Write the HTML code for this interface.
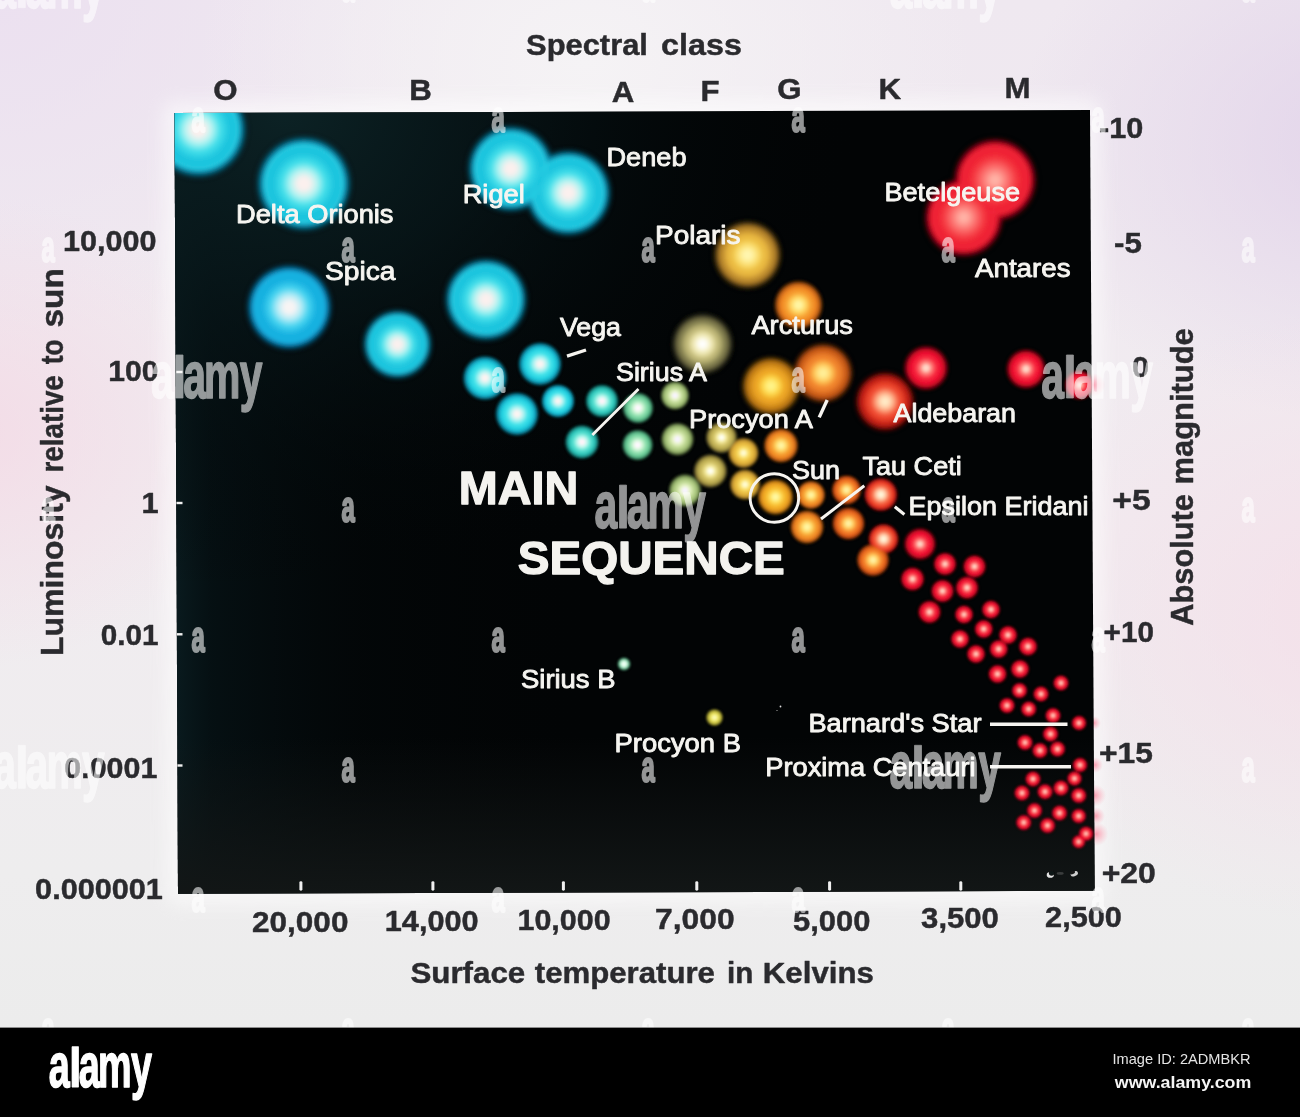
<!DOCTYPE html><html><head><meta charset="utf-8"><title>H-R diagram</title>
<style>html,body{margin:0;padding:0;background:#000;}body{width:1300px;height:1117px;overflow:hidden;}svg{display:block}text{font-family:"Liberation Sans",sans-serif;}</style></head><body>
<svg width="1300" height="1117" viewBox="0 0 1300 1117">
<defs>
<radialGradient id="g_cyan" cx="0.5" cy="0.5" r="0.5">
<stop offset="0" stop-color="#fbf0ee" stop-opacity="1"/>
<stop offset="0.12" stop-color="#fbf0ee" stop-opacity="1"/>
<stop offset="0.27" stop-color="#b4f4f2" stop-opacity="1"/>
<stop offset="0.43" stop-color="#44e0ea" stop-opacity="1"/>
<stop offset="0.62" stop-color="#1cc4de" stop-opacity="1"/>
<stop offset="0.74" stop-color="#1cc4de" stop-opacity="1"/>
<stop offset="0.78" stop-color="#2ed6e8" stop-opacity="1"/>
<stop offset="0.82" stop-color="#0e9ec2" stop-opacity="1"/>
<stop offset="0.885" stop-color="#097ea0" stop-opacity="0.8"/>
<stop offset="0.95" stop-color="#04384a" stop-opacity="0.35"/>
<stop offset="1" stop-color="#04384a" stop-opacity="0"/>
</radialGradient>
<radialGradient id="g_azure" cx="0.5" cy="0.5" r="0.5">
<stop offset="0" stop-color="#f8f4f4" stop-opacity="1"/>
<stop offset="0.12" stop-color="#f8f4f4" stop-opacity="1"/>
<stop offset="0.27" stop-color="#b4ecf6" stop-opacity="1"/>
<stop offset="0.43" stop-color="#44d4f0" stop-opacity="1"/>
<stop offset="0.62" stop-color="#16b0e0" stop-opacity="1"/>
<stop offset="0.74" stop-color="#16b0e0" stop-opacity="1"/>
<stop offset="0.78" stop-color="#24bce8" stop-opacity="1"/>
<stop offset="0.82" stop-color="#0c96cc" stop-opacity="1"/>
<stop offset="0.885" stop-color="#087aae" stop-opacity="0.8"/>
<stop offset="0.95" stop-color="#042c48" stop-opacity="0.35"/>
<stop offset="1" stop-color="#042c48" stop-opacity="0"/>
</radialGradient>
<radialGradient id="g_cyans" cx="0.5" cy="0.5" r="0.5">
<stop offset="0" stop-color="#fbf4f2" stop-opacity="1"/>
<stop offset="0.1" stop-color="#fbf4f2" stop-opacity="1"/>
<stop offset="0.27" stop-color="#b4f4f2" stop-opacity="1"/>
<stop offset="0.46" stop-color="#46e4ea" stop-opacity="1"/>
<stop offset="0.66" stop-color="#22cfe0" stop-opacity="1"/>
<stop offset="0.8" stop-color="#12a8c4" stop-opacity="0.95"/>
<stop offset="0.9" stop-color="#0a7e98" stop-opacity="0.6"/>
<stop offset="1" stop-color="#04303c" stop-opacity="0"/>
</radialGradient>
<radialGradient id="g_teal" cx="0.5" cy="0.5" r="0.5">
<stop offset="0" stop-color="#fff4fa" stop-opacity="1"/>
<stop offset="0.1" stop-color="#fff4fa" stop-opacity="1"/>
<stop offset="0.27" stop-color="#c0f8ee" stop-opacity="1"/>
<stop offset="0.46" stop-color="#60e4d4" stop-opacity="1"/>
<stop offset="0.66" stop-color="#30c8bc" stop-opacity="1"/>
<stop offset="0.8" stop-color="#1ea098" stop-opacity="0.95"/>
<stop offset="0.9" stop-color="#126c68" stop-opacity="0.6"/>
<stop offset="1" stop-color="#042020" stop-opacity="0"/>
</radialGradient>
<radialGradient id="g_green" cx="0.5" cy="0.5" r="0.5">
<stop offset="0" stop-color="#fff8ff" stop-opacity="1"/>
<stop offset="0.1" stop-color="#fff8ff" stop-opacity="1"/>
<stop offset="0.27" stop-color="#d8f8dc" stop-opacity="1"/>
<stop offset="0.46" stop-color="#98e4b4" stop-opacity="1"/>
<stop offset="0.66" stop-color="#6ccc98" stop-opacity="1"/>
<stop offset="0.8" stop-color="#4aa478" stop-opacity="0.95"/>
<stop offset="0.9" stop-color="#2a6a4c" stop-opacity="0.6"/>
<stop offset="1" stop-color="#0a2014" stop-opacity="0"/>
</radialGradient>
<radialGradient id="g_pgreen" cx="0.5" cy="0.5" r="0.5">
<stop offset="0" stop-color="#f8f4ff" stop-opacity="1"/>
<stop offset="0.1" stop-color="#f8f4ff" stop-opacity="1"/>
<stop offset="0.27" stop-color="#e8f4c8" stop-opacity="1"/>
<stop offset="0.46" stop-color="#c4dc98" stop-opacity="1"/>
<stop offset="0.66" stop-color="#a4c078" stop-opacity="1"/>
<stop offset="0.8" stop-color="#7c9858" stop-opacity="0.95"/>
<stop offset="0.9" stop-color="#4c6034" stop-opacity="0.6"/>
<stop offset="1" stop-color="#141a08" stop-opacity="0"/>
</radialGradient>
<radialGradient id="g_khaki" cx="0.5" cy="0.5" r="0.5">
<stop offset="0" stop-color="#ffffff" stop-opacity="1"/>
<stop offset="0.1" stop-color="#ffffff" stop-opacity="1"/>
<stop offset="0.25" stop-color="#f6f0c0" stop-opacity="1"/>
<stop offset="0.4" stop-color="#dad292" stop-opacity="1"/>
<stop offset="0.5" stop-color="#b4ac6c" stop-opacity="1"/>
<stop offset="0.56" stop-color="#c6be7e" stop-opacity="1"/>
<stop offset="0.62" stop-color="#928e58" stop-opacity="1"/>
<stop offset="0.8" stop-color="#706c44" stop-opacity="1"/>
<stop offset="0.885" stop-color="#46442a" stop-opacity="0.8"/>
<stop offset="0.95" stop-color="#1c1a0c" stop-opacity="0.35"/>
<stop offset="1" stop-color="#1c1a0c" stop-opacity="0"/>
</radialGradient>
<radialGradient id="g_olive" cx="0.5" cy="0.5" r="0.5">
<stop offset="0" stop-color="#fffff0" stop-opacity="1"/>
<stop offset="0.1" stop-color="#fffff0" stop-opacity="1"/>
<stop offset="0.27" stop-color="#f4ea9c" stop-opacity="1"/>
<stop offset="0.46" stop-color="#d4c468" stop-opacity="1"/>
<stop offset="0.66" stop-color="#b8a84e" stop-opacity="1"/>
<stop offset="0.8" stop-color="#8e803a" stop-opacity="0.95"/>
<stop offset="0.9" stop-color="#564e22" stop-opacity="0.6"/>
<stop offset="1" stop-color="#161408" stop-opacity="0"/>
</radialGradient>
<radialGradient id="g_yellow" cx="0.5" cy="0.5" r="0.5">
<stop offset="0" stop-color="#fff6b0" stop-opacity="1"/>
<stop offset="0.1" stop-color="#fff6b0" stop-opacity="1"/>
<stop offset="0.25" stop-color="#fde47c" stop-opacity="1"/>
<stop offset="0.4" stop-color="#f2c84c" stop-opacity="1"/>
<stop offset="0.5" stop-color="#e6b43c" stop-opacity="1"/>
<stop offset="0.56" stop-color="#eebe46" stop-opacity="1"/>
<stop offset="0.62" stop-color="#d29e34" stop-opacity="1"/>
<stop offset="0.8" stop-color="#aa7a28" stop-opacity="1"/>
<stop offset="0.885" stop-color="#6e4c14" stop-opacity="0.8"/>
<stop offset="0.95" stop-color="#2a1c06" stop-opacity="0.35"/>
<stop offset="1" stop-color="#2a1c06" stop-opacity="0"/>
</radialGradient>
<radialGradient id="g_yellows" cx="0.5" cy="0.5" r="0.5">
<stop offset="0" stop-color="#fffbd0" stop-opacity="1"/>
<stop offset="0.1" stop-color="#fffbd0" stop-opacity="1"/>
<stop offset="0.27" stop-color="#fce474" stop-opacity="1"/>
<stop offset="0.46" stop-color="#f0c648" stop-opacity="1"/>
<stop offset="0.66" stop-color="#dcac38" stop-opacity="1"/>
<stop offset="0.8" stop-color="#b4882a" stop-opacity="0.95"/>
<stop offset="0.9" stop-color="#705218" stop-opacity="0.6"/>
<stop offset="1" stop-color="#1c1404" stop-opacity="0"/>
</radialGradient>
<radialGradient id="g_gold" cx="0.5" cy="0.5" r="0.5">
<stop offset="0" stop-color="#fff48a" stop-opacity="1"/>
<stop offset="0.1" stop-color="#fff48a" stop-opacity="1"/>
<stop offset="0.25" stop-color="#ffdc50" stop-opacity="1"/>
<stop offset="0.4" stop-color="#f4b42c" stop-opacity="1"/>
<stop offset="0.5" stop-color="#e89c1e" stop-opacity="1"/>
<stop offset="0.56" stop-color="#f2ae2e" stop-opacity="1"/>
<stop offset="0.62" stop-color="#d68e1a" stop-opacity="1"/>
<stop offset="0.8" stop-color="#b87412" stop-opacity="1"/>
<stop offset="0.885" stop-color="#7c4c08" stop-opacity="0.8"/>
<stop offset="0.95" stop-color="#2c1804" stop-opacity="0.35"/>
<stop offset="1" stop-color="#2c1804" stop-opacity="0"/>
</radialGradient>
<radialGradient id="g_golds" cx="0.5" cy="0.5" r="0.5">
<stop offset="0" stop-color="#fff8a0" stop-opacity="1"/>
<stop offset="0.1" stop-color="#fff8a0" stop-opacity="1"/>
<stop offset="0.27" stop-color="#ffe060" stop-opacity="1"/>
<stop offset="0.46" stop-color="#f8bc30" stop-opacity="1"/>
<stop offset="0.66" stop-color="#eca020" stop-opacity="1"/>
<stop offset="0.8" stop-color="#c87e16" stop-opacity="0.95"/>
<stop offset="0.9" stop-color="#7a480a" stop-opacity="0.6"/>
<stop offset="1" stop-color="#1c1002" stop-opacity="0"/>
</radialGradient>
<radialGradient id="g_orange" cx="0.5" cy="0.5" r="0.5">
<stop offset="0" stop-color="#fff09a" stop-opacity="1"/>
<stop offset="0.1" stop-color="#fff09a" stop-opacity="1"/>
<stop offset="0.25" stop-color="#ffd060" stop-opacity="1"/>
<stop offset="0.4" stop-color="#f89a38" stop-opacity="1"/>
<stop offset="0.5" stop-color="#ec7624" stop-opacity="1"/>
<stop offset="0.56" stop-color="#f48e36" stop-opacity="1"/>
<stop offset="0.62" stop-color="#dc6a1e" stop-opacity="1"/>
<stop offset="0.8" stop-color="#c05416" stop-opacity="1"/>
<stop offset="0.885" stop-color="#843408" stop-opacity="0.8"/>
<stop offset="0.95" stop-color="#2a1004" stop-opacity="0.35"/>
<stop offset="1" stop-color="#2a1004" stop-opacity="0"/>
</radialGradient>
<radialGradient id="g_oranges" cx="0.5" cy="0.5" r="0.5">
<stop offset="0" stop-color="#fff4a0" stop-opacity="1"/>
<stop offset="0.1" stop-color="#fff4a0" stop-opacity="1"/>
<stop offset="0.27" stop-color="#ffd868" stop-opacity="1"/>
<stop offset="0.46" stop-color="#f8a434" stop-opacity="1"/>
<stop offset="0.66" stop-color="#ee8422" stop-opacity="1"/>
<stop offset="0.8" stop-color="#c46216" stop-opacity="0.95"/>
<stop offset="0.9" stop-color="#78380a" stop-opacity="0.6"/>
<stop offset="1" stop-color="#1c0a02" stop-opacity="0"/>
</radialGradient>
<radialGradient id="g_orangers" cx="0.5" cy="0.5" r="0.5">
<stop offset="0" stop-color="#fff0a0" stop-opacity="1"/>
<stop offset="0.1" stop-color="#fff0a0" stop-opacity="1"/>
<stop offset="0.27" stop-color="#ffcc60" stop-opacity="1"/>
<stop offset="0.46" stop-color="#f88c30" stop-opacity="1"/>
<stop offset="0.66" stop-color="#e8661e" stop-opacity="1"/>
<stop offset="0.8" stop-color="#bc4812" stop-opacity="0.95"/>
<stop offset="0.9" stop-color="#742808" stop-opacity="0.6"/>
<stop offset="1" stop-color="#1c0a02" stop-opacity="0"/>
</radialGradient>
<radialGradient id="g_redor" cx="0.5" cy="0.5" r="0.5">
<stop offset="0" stop-color="#ffecc8" stop-opacity="1"/>
<stop offset="0.1" stop-color="#ffecc8" stop-opacity="1"/>
<stop offset="0.25" stop-color="#ffb890" stop-opacity="1"/>
<stop offset="0.4" stop-color="#f86848" stop-opacity="1"/>
<stop offset="0.5" stop-color="#ea3c26" stop-opacity="1"/>
<stop offset="0.56" stop-color="#f45236" stop-opacity="1"/>
<stop offset="0.62" stop-color="#d82c1c" stop-opacity="1"/>
<stop offset="0.8" stop-color="#b41a12" stop-opacity="1"/>
<stop offset="0.885" stop-color="#780a08" stop-opacity="0.8"/>
<stop offset="0.95" stop-color="#2a0404" stop-opacity="0.35"/>
<stop offset="1" stop-color="#2a0404" stop-opacity="0"/>
</radialGradient>
<radialGradient id="g_redors" cx="0.5" cy="0.5" r="0.5">
<stop offset="0" stop-color="#fff4d8" stop-opacity="1"/>
<stop offset="0.1" stop-color="#fff4d8" stop-opacity="1"/>
<stop offset="0.27" stop-color="#ffc4a0" stop-opacity="1"/>
<stop offset="0.46" stop-color="#f8704c" stop-opacity="1"/>
<stop offset="0.66" stop-color="#ec3c26" stop-opacity="1"/>
<stop offset="0.8" stop-color="#c4221a" stop-opacity="0.95"/>
<stop offset="0.9" stop-color="#780e0c" stop-opacity="0.6"/>
<stop offset="1" stop-color="#1c0202" stop-opacity="0"/>
</radialGradient>
<radialGradient id="g_red" cx="0.5" cy="0.5" r="0.5">
<stop offset="0" stop-color="#ffeeee" stop-opacity="1"/>
<stop offset="0.12" stop-color="#ffeeee" stop-opacity="1"/>
<stop offset="0.27" stop-color="#ffb4bc" stop-opacity="1"/>
<stop offset="0.43" stop-color="#fa5064" stop-opacity="1"/>
<stop offset="0.62" stop-color="#f01a38" stop-opacity="1"/>
<stop offset="0.74" stop-color="#f01a38" stop-opacity="1"/>
<stop offset="0.78" stop-color="#f42a44" stop-opacity="1"/>
<stop offset="0.82" stop-color="#d80a2a" stop-opacity="1"/>
<stop offset="0.885" stop-color="#aa041e" stop-opacity="0.8"/>
<stop offset="0.95" stop-color="#2a0008" stop-opacity="0.35"/>
<stop offset="1" stop-color="#2a0008" stop-opacity="0"/>
</radialGradient>
<radialGradient id="g_reds" cx="0.5" cy="0.5" r="0.5">
<stop offset="0" stop-color="#ffdccc" stop-opacity="1"/>
<stop offset="0.1" stop-color="#ffd0c0" stop-opacity="1"/>
<stop offset="0.24" stop-color="#ff7c78" stop-opacity="1"/>
<stop offset="0.42" stop-color="#f82c42" stop-opacity="1"/>
<stop offset="0.6" stop-color="#ee1030" stop-opacity="1"/>
<stop offset="0.74" stop-color="#cc0a24" stop-opacity="0.97"/>
<stop offset="0.87" stop-color="#7c0412" stop-opacity="0.6"/>
<stop offset="1" stop-color="#1c0004" stop-opacity="0"/>
</radialGradient>
<radialGradient id="g_redg" cx="0.5" cy="0.5" r="0.5">
<stop offset="0" stop-color="#ffb8ac" stop-opacity="1"/>
<stop offset="0.1" stop-color="#ffaca0" stop-opacity="1"/>
<stop offset="0.3" stop-color="#fc6e6c" stop-opacity="1"/>
<stop offset="0.5" stop-color="#f4343e" stop-opacity="1"/>
<stop offset="0.68" stop-color="#ee1c30" stop-opacity="1"/>
<stop offset="0.76" stop-color="#f22a3c" stop-opacity="1"/>
<stop offset="0.81" stop-color="#da0c26" stop-opacity="1"/>
<stop offset="0.88" stop-color="#a2041a" stop-opacity="0.8"/>
<stop offset="0.95" stop-color="#2a0006" stop-opacity="0.35"/>
<stop offset="1" stop-color="#2a0006" stop-opacity="0"/>
</radialGradient>
<radialGradient id="g_wd_g" cx="0.5" cy="0.5" r="0.5">
<stop offset="0" stop-color="#ffffff" stop-opacity="1"/>
<stop offset="0.35" stop-color="#d8ffe8" stop-opacity="1"/>
<stop offset="0.7" stop-color="#60c090" stop-opacity="0.9"/>
<stop offset="1" stop-color="#0a2014" stop-opacity="0"/>
</radialGradient>
<radialGradient id="g_wd_y" cx="0.5" cy="0.5" r="0.5">
<stop offset="0" stop-color="#ffffd0" stop-opacity="1"/>
<stop offset="0.4" stop-color="#f0e860" stop-opacity="1"/>
<stop offset="0.75" stop-color="#b0a830" stop-opacity="0.9"/>
<stop offset="1" stop-color="#1c1a04" stop-opacity="0"/>
</radialGradient>
<linearGradient id="bgbase" x1="0" y1="0" x2="0" y2="1"><stop offset="0" stop-color="#efe8f0"/><stop offset="0.5" stop-color="#f1ecf0"/><stop offset="0.85" stop-color="#eeedee"/><stop offset="1" stop-color="#ececec"/></linearGradient>
<radialGradient id="bgL" cx="-0.03" cy="0.42" r="0.23"><stop offset="0" stop-color="#f4d6e3" stop-opacity="0.72"/><stop offset="1" stop-color="#f4d4e2" stop-opacity="0"/></radialGradient>
<radialGradient id="bgR" cx="1.05" cy="0.14" r="0.27"><stop offset="0" stop-color="#e0d0e9" stop-opacity="0.8"/><stop offset="1" stop-color="#dfcfe8" stop-opacity="0"/></radialGradient>
<radialGradient id="bgR2" cx="1.05" cy="0.6" r="0.3"><stop offset="0" stop-color="#f5dde8" stop-opacity="0.8"/><stop offset="1" stop-color="#f4dce8" stop-opacity="0"/></radialGradient>
<radialGradient id="bgTL" cx="0" cy="0" r="0.33"><stop offset="0" stop-color="#ebdff0" stop-opacity="0.85"/><stop offset="1" stop-color="#ebdff0" stop-opacity="0"/></radialGradient>
<radialGradient id="bgC" cx="0.45" cy="0.06" r="0.3"><stop offset="0" stop-color="#f5f3f5" stop-opacity="1"/><stop offset="1" stop-color="#f5f3f5" stop-opacity="0"/></radialGradient>
<linearGradient id="plotL" x1="0" y1="0" x2="1" y2="0"><stop offset="0" stop-color="#0a1c20" stop-opacity="0.95"/><stop offset="0.04" stop-color="#07161a" stop-opacity="0.65"/><stop offset="0.2" stop-color="#040c0e" stop-opacity="0.3"/><stop offset="0.45" stop-color="#020506" stop-opacity="0"/></linearGradient>
<radialGradient id="plotT" cx="0.12" cy="0" r="0.62"><stop offset="0" stop-color="#0c2225" stop-opacity="1"/><stop offset="0.35" stop-color="#08181b" stop-opacity="0.75"/><stop offset="0.7" stop-color="#040c0e" stop-opacity="0.35"/><stop offset="1" stop-color="#020506" stop-opacity="0"/></radialGradient>
<linearGradient id="plotB" x1="0" y1="0" x2="0" y2="1"><stop offset="0.8" stop-color="#121616" stop-opacity="0"/><stop offset="1" stop-color="#121616" stop-opacity="1"/></linearGradient>
<clipPath id="plotclip"><polygon points="174.5,113 1090,110 1094.7,890.8 178,893.8"/></clipPath>
<filter id="starblur2" x="-2%" y="-2%" width="104%" height="104%"><feGaussianBlur stdDeviation="2.1"/></filter>
<filter id="starblur" x="-2%" y="-2%" width="104%" height="104%"><feGaussianBlur stdDeviation="1.3"/></filter>
<filter id="halo" x="-5%" y="-5%" width="110%" height="110%"><feGaussianBlur stdDeviation="9"/></filter>
<filter id="soft" x="-5%" y="-5%" width="110%" height="110%"><feGaussianBlur stdDeviation="0.55"/></filter>
<filter id="soft2" x="-5%" y="-5%" width="110%" height="110%"><feGaussianBlur stdDeviation="0.45"/></filter>
</defs>
<rect width="1300" height="1028" fill="url(#bgbase)"/>
<rect width="1300" height="1028" fill="url(#bgTL)"/>
<rect width="1300" height="1028" fill="url(#bgL)"/>
<rect width="1300" height="1028" fill="url(#bgR)"/>
<rect width="1300" height="1028" fill="url(#bgR2)"/>
<rect width="1300" height="1028" fill="url(#bgC)"/>
<polygon points="174.5,113 1090,110 1094.7,890.8 178,893.8" fill="#ffffff" stroke="#ffffff" stroke-width="22" stroke-linejoin="round" opacity="0.55" filter="url(#halo)"/>
<radialGradient id="bleed" cx="0.5" cy="0.5" r="0.5"><stop offset="0" stop-color="#ff5a7a" stop-opacity="0.55"/><stop offset="1" stop-color="#ff8aa0" stop-opacity="0"/></radialGradient>
<circle cx="1095" cy="795.5" r="11" fill="url(#bleed)"/>
<circle cx="1096" cy="816" r="9" fill="url(#bleed)"/>
<circle cx="1096.5" cy="834" r="12" fill="url(#bleed)"/>
<circle cx="1095" cy="765" r="8" fill="url(#bleed)"/>
<circle cx="1094" cy="723" r="7" fill="url(#bleed)"/>
<circle cx="1093" cy="385" r="12" fill="url(#bleed)"/>
<polygon points="174.5,113 1090,110 1094.7,890.8 178,893.8" fill="#020405"/>
<polygon points="174.5,113 1090,110 1094.7,890.8 178,893.8" fill="url(#plotL)"/>
<polygon points="174.5,113 1090,110 1094.7,890.8 178,893.8" fill="url(#plotT)"/>
<polygon points="174.5,113 1090,110 1094.7,890.8 178,893.8" fill="url(#plotB)"/>
<g clip-path="url(#plotclip)">
<g filter="url(#starblur)">
<circle cx="485" cy="378" r="23.5" fill="url(#g_cyans)" style="mix-blend-mode:lighten"/>
<circle cx="540" cy="364" r="23.0" fill="url(#g_cyans)" style="mix-blend-mode:lighten"/>
<circle cx="517" cy="414" r="23.0" fill="url(#g_cyans)" style="mix-blend-mode:lighten"/>
<circle cx="558" cy="401" r="17.7" fill="url(#g_cyans)" style="mix-blend-mode:lighten"/>
<circle cx="602" cy="401" r="17.7" fill="url(#g_teal)" style="mix-blend-mode:lighten"/>
<circle cx="582" cy="442" r="18.2" fill="url(#g_teal)" style="mix-blend-mode:lighten"/>
<circle cx="638" cy="408" r="16.6" fill="url(#g_green)" style="mix-blend-mode:lighten"/>
<circle cx="637.6" cy="445" r="16.6" fill="url(#g_green)" style="mix-blend-mode:lighten"/>
<circle cx="675" cy="395.5" r="15.5" fill="url(#g_pgreen)" style="mix-blend-mode:lighten"/>
<circle cx="677.5" cy="439.2" r="17.7" fill="url(#g_pgreen)" style="mix-blend-mode:lighten"/>
<circle cx="685" cy="490.5" r="17.7" fill="url(#g_pgreen)" style="mix-blend-mode:lighten"/>
<circle cx="721.5" cy="437.5" r="17.1" fill="url(#g_olive)" style="mix-blend-mode:lighten"/>
<circle cx="710.4" cy="471" r="18.2" fill="url(#g_olive)" style="mix-blend-mode:lighten"/>
<circle cx="743.5" cy="453" r="16.6" fill="url(#g_yellows)" style="mix-blend-mode:lighten"/>
<circle cx="745" cy="484.5" r="16.6" fill="url(#g_yellows)" style="mix-blend-mode:lighten"/>
<circle cx="798.5" cy="305" r="26.2" fill="url(#g_oranges)" style="mix-blend-mode:lighten"/>
<circle cx="781" cy="445.5" r="18.7" fill="url(#g_oranges)" style="mix-blend-mode:lighten"/>
<circle cx="775.5" cy="497" r="19.3" fill="url(#g_golds)" style="mix-blend-mode:lighten"/>
<circle cx="811" cy="495" r="15.5" fill="url(#g_oranges)" style="mix-blend-mode:lighten"/>
<circle cx="807" cy="527" r="18.2" fill="url(#g_oranges)" style="mix-blend-mode:lighten"/>
<circle cx="846.5" cy="490" r="16.1" fill="url(#g_orangers)" style="mix-blend-mode:lighten"/>
<circle cx="848.5" cy="523.5" r="17.7" fill="url(#g_orangers)" style="mix-blend-mode:lighten"/>
<circle cx="926" cy="368" r="24.6" fill="url(#g_reds)" style="mix-blend-mode:lighten"/>
<circle cx="1026" cy="369" r="21.9" fill="url(#g_reds)" style="mix-blend-mode:lighten"/>
<circle cx="1079.5" cy="385" r="16.1" fill="url(#g_reds)" style="mix-blend-mode:lighten"/>
<circle cx="880.8" cy="494.6" r="18.2" fill="url(#g_redors)" style="mix-blend-mode:lighten"/>
<circle cx="883.5" cy="539" r="16.6" fill="url(#g_redors)" style="mix-blend-mode:lighten"/>
<circle cx="873" cy="560" r="17.7" fill="url(#g_orangers)" style="mix-blend-mode:lighten"/>
<circle cx="920" cy="544" r="17.7" fill="url(#g_reds)" style="mix-blend-mode:lighten"/>
<circle cx="945" cy="564" r="12.8" fill="url(#g_reds)" style="mix-blend-mode:lighten"/>
<circle cx="974.5" cy="566.5" r="12.8" fill="url(#g_reds)" style="mix-blend-mode:lighten"/>
<circle cx="912.5" cy="579" r="13.2" fill="url(#g_reds)" style="mix-blend-mode:lighten"/>
<circle cx="942.5" cy="591" r="12.8" fill="url(#g_reds)" style="mix-blend-mode:lighten"/>
<circle cx="967" cy="587.7" r="12.8" fill="url(#g_reds)" style="mix-blend-mode:lighten"/>
<circle cx="929.5" cy="612" r="12.8" fill="url(#g_reds)" style="mix-blend-mode:lighten"/>
<circle cx="964" cy="614.5" r="10.3" fill="url(#g_reds)" style="mix-blend-mode:lighten"/>
<circle cx="991" cy="609.5" r="10.3" fill="url(#g_reds)" style="mix-blend-mode:lighten"/>
<circle cx="983.7" cy="629" r="10.3" fill="url(#g_reds)" style="mix-blend-mode:lighten"/>
<circle cx="1008" cy="635" r="10.3" fill="url(#g_reds)" style="mix-blend-mode:lighten"/>
<circle cx="960" cy="639" r="10.3" fill="url(#g_reds)" style="mix-blend-mode:lighten"/>
<circle cx="1028" cy="646.5" r="10.3" fill="url(#g_reds)" style="mix-blend-mode:lighten"/>
<circle cx="998.7" cy="649" r="10.3" fill="url(#g_reds)" style="mix-blend-mode:lighten"/>
<circle cx="976" cy="654" r="10.3" fill="url(#g_reds)" style="mix-blend-mode:lighten"/>
<circle cx="997.5" cy="674" r="10.3" fill="url(#g_reds)" style="mix-blend-mode:lighten"/>
<circle cx="1020" cy="669" r="10.3" fill="url(#g_reds)" style="mix-blend-mode:lighten"/>
<circle cx="1061" cy="683" r="8.7" fill="url(#g_reds)" style="mix-blend-mode:lighten"/>
<circle cx="1019.5" cy="690.5" r="8.7" fill="url(#g_reds)" style="mix-blend-mode:lighten"/>
<circle cx="1041" cy="694" r="8.7" fill="url(#g_reds)" style="mix-blend-mode:lighten"/>
<circle cx="1007" cy="705.5" r="8.7" fill="url(#g_reds)" style="mix-blend-mode:lighten"/>
<circle cx="1028.7" cy="709" r="8.7" fill="url(#g_reds)" style="mix-blend-mode:lighten"/>
<circle cx="1053" cy="715.5" r="8.7" fill="url(#g_reds)" style="mix-blend-mode:lighten"/>
<circle cx="1079" cy="723" r="8.3" fill="url(#g_reds)" style="mix-blend-mode:lighten"/>
<circle cx="1050.5" cy="734" r="8.7" fill="url(#g_reds)" style="mix-blend-mode:lighten"/>
<circle cx="1025" cy="742.5" r="8.7" fill="url(#g_reds)" style="mix-blend-mode:lighten"/>
<circle cx="1040" cy="750.5" r="8.7" fill="url(#g_reds)" style="mix-blend-mode:lighten"/>
<circle cx="1057.5" cy="749" r="8.7" fill="url(#g_reds)" style="mix-blend-mode:lighten"/>
<circle cx="1080" cy="765" r="8.3" fill="url(#g_reds)" style="mix-blend-mode:lighten"/>
<circle cx="1074.5" cy="778.5" r="8.3" fill="url(#g_reds)" style="mix-blend-mode:lighten"/>
<circle cx="1033" cy="779" r="8.7" fill="url(#g_reds)" style="mix-blend-mode:lighten"/>
<circle cx="1022" cy="793" r="8.7" fill="url(#g_reds)" style="mix-blend-mode:lighten"/>
<circle cx="1045" cy="791.7" r="8.7" fill="url(#g_reds)" style="mix-blend-mode:lighten"/>
<circle cx="1061" cy="788" r="8.7" fill="url(#g_reds)" style="mix-blend-mode:lighten"/>
<circle cx="1078.7" cy="795.5" r="8.7" fill="url(#g_reds)" style="mix-blend-mode:lighten"/>
<circle cx="1034.5" cy="810.5" r="8.7" fill="url(#g_reds)" style="mix-blend-mode:lighten"/>
<circle cx="1059.5" cy="813" r="8.7" fill="url(#g_reds)" style="mix-blend-mode:lighten"/>
<circle cx="1078.7" cy="816" r="8.3" fill="url(#g_reds)" style="mix-blend-mode:lighten"/>
<circle cx="1023.7" cy="822.5" r="8.7" fill="url(#g_reds)" style="mix-blend-mode:lighten"/>
<circle cx="1047.5" cy="825.5" r="8.7" fill="url(#g_reds)" style="mix-blend-mode:lighten"/>
<circle cx="1086" cy="833.7" r="8.3" fill="url(#g_reds)" style="mix-blend-mode:lighten"/>
<circle cx="1078.7" cy="841.7" r="7.5" fill="url(#g_reds)" style="mix-blend-mode:lighten"/>
<circle cx="624" cy="664" r="7.5" fill="url(#g_wd_g)" style="mix-blend-mode:lighten"/>
<circle cx="714.5" cy="717.5" r="9.5" fill="url(#g_wd_y)" style="mix-blend-mode:lighten"/>
</g>
<g filter="url(#starblur2)">
<circle cx="198.5" cy="129.5" r="50.4" fill="url(#g_cyan)" style="mix-blend-mode:lighten"/>
<circle cx="303.8" cy="183.7" r="49.7" fill="url(#g_cyan)" style="mix-blend-mode:lighten"/>
<circle cx="289.3" cy="307.2" r="44.6" fill="url(#g_azure)" style="mix-blend-mode:lighten"/>
<circle cx="397.4" cy="344.3" r="36.1" fill="url(#g_cyan)" style="mix-blend-mode:lighten"/>
<circle cx="486" cy="299.5" r="43.3" fill="url(#g_cyan)" style="mix-blend-mode:lighten"/>
<circle cx="568.2" cy="192.9" r="45.2" fill="url(#g_cyan)" style="mix-blend-mode:lighten"/>
<circle cx="510.8" cy="168.7" r="45.4" fill="url(#g_cyan)" style="mix-blend-mode:lighten"/>
<circle cx="702.5" cy="344" r="31.8" fill="url(#g_khaki)" style="mix-blend-mode:lighten"/>
<circle cx="747.5" cy="255" r="35.6" fill="url(#g_yellow)" style="mix-blend-mode:lighten"/>
<circle cx="771" cy="386" r="30.7" fill="url(#g_gold)" style="mix-blend-mode:lighten"/>
<circle cx="823" cy="373" r="31.2" fill="url(#g_orange)" style="mix-blend-mode:lighten"/>
<circle cx="885" cy="401.5" r="31.2" fill="url(#g_redor)" style="mix-blend-mode:lighten"/>
<circle cx="995" cy="180" r="43.8" fill="url(#g_redg)" style="mix-blend-mode:lighten"/>
<circle cx="963.7" cy="217.5" r="41.6" fill="url(#g_redg)" style="mix-blend-mode:lighten"/>
</g>
<rect x="176.3" y="370.8" width="6.2" height="2.4" fill="#f0f0f0"/>
<rect x="176.3" y="501.8" width="6.2" height="2.4" fill="#f0f0f0"/>
<rect x="176.3" y="633.0999999999999" width="6.2" height="2.4" fill="#f0f0f0"/>
<rect x="176.3" y="764.3" width="6.2" height="2.4" fill="#f0f0f0"/>
<rect x="299.40000000000003" y="881.2" width="3" height="9.5" rx="1.4" fill="#f0f0f0"/>
<rect x="431.40000000000003" y="881.2" width="3" height="9.5" rx="1.4" fill="#f0f0f0"/>
<rect x="561.9" y="881.2" width="3" height="9.5" rx="1.4" fill="#f0f0f0"/>
<rect x="695.3000000000001" y="881.2" width="3" height="9.5" rx="1.4" fill="#f0f0f0"/>
<rect x="828.1" y="881.2" width="3" height="9.5" rx="1.4" fill="#f0f0f0"/>
<rect x="959.3000000000001" y="881.2" width="3" height="9.5" rx="1.4" fill="#f0f0f0"/>
<circle cx="774.4" cy="498" r="24.3" fill="none" stroke="#f6f4f0" stroke-width="3"/>
<line x1="567" y1="356.2" x2="586" y2="350" stroke="#f6f4f0" stroke-width="3.4"/>
<line x1="638.5" y1="389" x2="592.3" y2="435" stroke="#f6f4f0" stroke-width="2.8"/>
<line x1="827.2" y1="400" x2="819.2" y2="417.4" stroke="#f6f4f0" stroke-width="3.4"/>
<line x1="864.3" y1="485.8" x2="821" y2="519" stroke="#f6f4f0" stroke-width="3"/>
<line x1="894.8" y1="506.8" x2="904.4" y2="514.4" stroke="#f6f4f0" stroke-width="3.2"/>
<line x1="990" y1="724.3" x2="1067.5" y2="724.3" stroke="#f6f4f0" stroke-width="3.6"/>
<line x1="990" y1="766.8" x2="1071" y2="766.8" stroke="#f6f4f0" stroke-width="3.6"/>
<g filter="url(#soft2)"><ellipse cx="1050.3" cy="874.9" rx="3.6" ry="2.8" fill="#e4e4e4"/><circle cx="1051.6" cy="873" r="2.7" fill="#101212"/>
<ellipse cx="1074.3" cy="873.8" rx="3.8" ry="2.3" transform="rotate(-22 1074.3 873.8)" fill="#cfcfcf"/><ellipse cx="1072.6" cy="872.6" rx="2.6" ry="1.5" transform="rotate(-22 1072.6 872.6)" fill="#161818"/>
<ellipse cx="1060.2" cy="873.4" rx="3.5" ry="1.3" fill="#3a3c3c"/></g>
<circle cx="780.5" cy="706.5" r="0.9" fill="#ddd"/><circle cx="777" cy="710.5" r="0.6" fill="#bbb"/>
</g>
<g fill="#f6f5f1" stroke="#f6f5f1" stroke-width="0.9" stroke-linejoin="round" font-size="26.5" filter="url(#soft2)">
<text x="236.0" y="222.5" textLength="157.5" lengthAdjust="spacingAndGlyphs">Delta Orionis</text>
<text x="325.0" y="280" textLength="70.5" lengthAdjust="spacingAndGlyphs">Spica</text>
<text x="462.7" y="202.7" textLength="62.1" lengthAdjust="spacingAndGlyphs">Rigel</text>
<text x="606.5" y="165.7" textLength="80.0" lengthAdjust="spacingAndGlyphs">Deneb</text>
<text x="655.0" y="243.7" textLength="85.5" lengthAdjust="spacingAndGlyphs">Polaris</text>
<text x="560.0" y="336" textLength="61.0" lengthAdjust="spacingAndGlyphs">Vega</text>
<text x="616.0" y="381" textLength="91.0" lengthAdjust="spacingAndGlyphs">Sirius A</text>
<text x="751.4" y="334" textLength="101.6" lengthAdjust="spacingAndGlyphs">Arcturus</text>
<text x="689.0" y="428.3" textLength="124.0" lengthAdjust="spacingAndGlyphs">Procyon A</text>
<text x="884.5" y="201" textLength="135.5" lengthAdjust="spacingAndGlyphs">Betelgeuse</text>
<text x="975.0" y="277" textLength="95.5" lengthAdjust="spacingAndGlyphs">Antares</text>
<text x="893.5" y="421.5" textLength="122.5" lengthAdjust="spacingAndGlyphs">Aldebaran</text>
<text x="792.0" y="479" textLength="48.0" lengthAdjust="spacingAndGlyphs">Sun</text>
<text x="862.5" y="475.2" textLength="99.2" lengthAdjust="spacingAndGlyphs">Tau Ceti</text>
<text x="908.5" y="515.2" textLength="180.0" lengthAdjust="spacingAndGlyphs">Epsilon Eridani</text>
<text x="521.0" y="688" textLength="94.5" lengthAdjust="spacingAndGlyphs">Sirius B</text>
<text x="614.5" y="751.7" textLength="126.5" lengthAdjust="spacingAndGlyphs">Procyon B</text>
<text x="808.4" y="732.2" textLength="173.1" lengthAdjust="spacingAndGlyphs">Barnard's Star</text>
<text x="765.3" y="775.6" textLength="210.2" lengthAdjust="spacingAndGlyphs">Proxima Centauri</text>
</g>
<g fill="#f4f3ef" stroke="#f4f3ef" stroke-width="1.3" stroke-linejoin="round" font-weight="bold" font-size="47" filter="url(#soft)">
<text x="458.8" y="504.3" textLength="119.5" lengthAdjust="spacingAndGlyphs">MAIN</text>
<text x="517.8" y="574" textLength="267" lengthAdjust="spacingAndGlyphs">SEQUENCE</text>
</g>
<g fill="#2c2c2f" stroke="#2c2c2f" stroke-width="0.45" stroke-linejoin="round" font-weight="bold" filter="url(#soft2)">
<text x="526.1" y="55.4" font-size="29.5" textLength="121.8" lengthAdjust="spacingAndGlyphs">Spectral</text>
<text x="661.1" y="55.4" font-size="29.5" textLength="80.8" lengthAdjust="spacingAndGlyphs">class</text>
<text x="225.4" y="100.3" font-size="29.5" text-anchor="middle" transform="translate(225.4,0) scale(1.06,1) translate(-225.4,0)">O</text>
<text x="420.6" y="99.7" font-size="29.5" text-anchor="middle" transform="translate(420.6,0) scale(1.06,1) translate(-420.6,0)">B</text>
<text x="623.0" y="101.6" font-size="29.5" text-anchor="middle" transform="translate(623.0,0) scale(1.06,1) translate(-623.0,0)">A</text>
<text x="710.0" y="101.4" font-size="29.5" text-anchor="middle" transform="translate(710.0,0) scale(1.06,1) translate(-710.0,0)">F</text>
<text x="789.3" y="99.4" font-size="29.5" text-anchor="middle" transform="translate(789.3,0) scale(1.06,1) translate(-789.3,0)">G</text>
<text x="889.8" y="98.6" font-size="29.5" text-anchor="middle" transform="translate(889.8,0) scale(1.06,1) translate(-889.8,0)">K</text>
<text x="1017.5" y="98.5" font-size="29.5" text-anchor="middle" transform="translate(1017.5,0) scale(1.06,1) translate(-1017.5,0)">M</text>
<text x="63.1" y="251" font-size="29" textLength="93.5" lengthAdjust="spacingAndGlyphs">10,000</text>
<text x="108.2" y="380.6" font-size="29" textLength="50.2" lengthAdjust="spacingAndGlyphs">100</text>
<text x="150.1" y="512.7" font-size="29" text-anchor="middle" transform="translate(150.1,0) scale(1.06,1) translate(-150.1,0)">1</text>
<text x="100.7" y="644.6" font-size="29" textLength="57.7" lengthAdjust="spacingAndGlyphs">0.01</text>
<text x="64.3" y="777.5" font-size="29" textLength="93.0" lengthAdjust="spacingAndGlyphs">0.0001</text>
<text x="35.1" y="898.9" font-size="29" textLength="127.8" lengthAdjust="spacingAndGlyphs">0.000001</text>
<text x="1099.1" y="137.5" font-size="29" textLength="44.3" lengthAdjust="spacingAndGlyphs">-10</text>
<text x="1114.1" y="252.5" font-size="29" textLength="27.8" lengthAdjust="spacingAndGlyphs">-5</text>
<text x="1140.5" y="377" font-size="29" text-anchor="middle" transform="translate(1140.5,0) scale(1.06,1) translate(-1140.5,0)">0</text>
<text x="1112.3" y="509.7" font-size="29" textLength="38.3" lengthAdjust="spacingAndGlyphs">+5</text>
<text x="1103.6" y="642" font-size="29" textLength="50.3" lengthAdjust="spacingAndGlyphs">+10</text>
<text x="1099.1" y="762.5" font-size="29" textLength="53.8" lengthAdjust="spacingAndGlyphs">+15</text>
<text x="1101.7" y="882.6" font-size="29" textLength="54.2" lengthAdjust="spacingAndGlyphs">+20</text>
<text x="252.1" y="932" font-size="29" textLength="96.3" lengthAdjust="spacingAndGlyphs">20,000</text>
<text x="384.8" y="931.3" font-size="29" textLength="93.8" lengthAdjust="spacingAndGlyphs">14,000</text>
<text x="517.5" y="929.6" font-size="29" textLength="93.1" lengthAdjust="spacingAndGlyphs">10,000</text>
<text x="655.1" y="929.2" font-size="29" textLength="79.5" lengthAdjust="spacingAndGlyphs">7,000</text>
<text x="793.0" y="930.5" font-size="29" textLength="77.4" lengthAdjust="spacingAndGlyphs">5,000</text>
<text x="921.1" y="928" font-size="29" textLength="77.8" lengthAdjust="spacingAndGlyphs">3,500</text>
<text x="1045.1" y="926.8" font-size="29" textLength="76.8" lengthAdjust="spacingAndGlyphs">2,500</text>
<text x="410.4" y="983.3" font-size="30" textLength="114.9" lengthAdjust="spacingAndGlyphs">Surface</text>
<text x="534.8" y="983.3" font-size="30" textLength="180.1" lengthAdjust="spacingAndGlyphs">temperature</text>
<text x="727.0" y="983.3" font-size="30" textLength="26.3" lengthAdjust="spacingAndGlyphs">in</text>
<text x="762.8" y="983.1" font-size="30" textLength="111.1" lengthAdjust="spacingAndGlyphs">Kelvins</text>
<text transform="translate(62.9,656.0) rotate(-90)" font-size="31" textLength="170.6" lengthAdjust="spacingAndGlyphs">Luminosity</text>
<text transform="translate(62.9,472.5) rotate(-90)" font-size="31" textLength="97.3" lengthAdjust="spacingAndGlyphs">relative</text>
<text transform="translate(62.9,364.2) rotate(-90)" font-size="31" textLength="24.9" lengthAdjust="spacingAndGlyphs">to</text>
<text transform="translate(62.9,327.5) rotate(-90)" font-size="31" textLength="59.4" lengthAdjust="spacingAndGlyphs">sun</text>
<text transform="translate(1193.4,625.7) rotate(-90)" font-size="31" textLength="131.6" lengthAdjust="spacingAndGlyphs">Absolute</text>
<text transform="translate(1193.4,484.4) rotate(-90)" font-size="31" textLength="156.2" lengthAdjust="spacingAndGlyphs">magnitude</text>
</g>
<g fill="#fff" stroke="#fff" stroke-linejoin="round" font-weight="bold" opacity="0.58">
<g font-size="67" stroke-width="1.6"><text transform="translate(-6.8,7.7) scale(0.61,1)">a</text><text transform="translate(25.5,7.7) scale(0.61,1)">a</text><text transform="translate(46.4,7.7) scale(0.61,1)">m</text><text transform="translate(82.1,7.7) scale(0.61,1)">y</text><rect x="18.3" y="-35.3" width="7" height="43" stroke-width="0.8"/></g>
<text transform="translate(341.6,1.7) scale(0.53,1)" font-size="45" stroke-width="2.2">a</text>
<text transform="translate(641.6,1.7) scale(0.53,1)" font-size="45" stroke-width="2.2">a</text>
<g font-size="67" stroke-width="1.6"><text transform="translate(889.4,7.7) scale(0.61,1)">a</text><text transform="translate(921.7,7.7) scale(0.61,1)">a</text><text transform="translate(942.6,7.7) scale(0.61,1)">m</text><text transform="translate(978.3,7.7) scale(0.61,1)">y</text><rect x="914.5" y="-35.3" width="7" height="43" stroke-width="0.8"/></g>
<text transform="translate(1241.6,1.7) scale(0.53,1)" font-size="45" stroke-width="2.2">a</text>
<text transform="translate(191.6,131.8) scale(0.53,1)" font-size="45" stroke-width="2.2">a</text>
<text transform="translate(491.6,131.8) scale(0.53,1)" font-size="45" stroke-width="2.2">a</text>
<text transform="translate(791.6,131.8) scale(0.53,1)" font-size="45" stroke-width="2.2">a</text>
<text transform="translate(1091.6,131.8) scale(0.53,1)" font-size="45" stroke-width="2.2">a</text>
<text transform="translate(41.6,261.9) scale(0.53,1)" font-size="45" stroke-width="2.2">a</text>
<text transform="translate(341.6,261.9) scale(0.53,1)" font-size="45" stroke-width="2.2">a</text>
<text transform="translate(641.6,261.9) scale(0.53,1)" font-size="45" stroke-width="2.2">a</text>
<text transform="translate(941.6,261.9) scale(0.53,1)" font-size="45" stroke-width="2.2">a</text>
<text transform="translate(1241.6,261.9) scale(0.53,1)" font-size="45" stroke-width="2.2">a</text>
<g font-size="67" stroke-width="1.6"><text transform="translate(150.9,398.0) scale(0.61,1)">a</text><text transform="translate(183.2,398.0) scale(0.61,1)">a</text><text transform="translate(204.1,398.0) scale(0.61,1)">m</text><text transform="translate(239.8,398.0) scale(0.61,1)">y</text><rect x="176.0" y="355.0" width="7" height="43" stroke-width="0.8"/></g>
<text transform="translate(491.6,392.0) scale(0.53,1)" font-size="45" stroke-width="2.2">a</text>
<text transform="translate(791.6,392.0) scale(0.53,1)" font-size="45" stroke-width="2.2">a</text>
<g font-size="67" stroke-width="1.6"><text transform="translate(1041.3,398.0) scale(0.61,1)">a</text><text transform="translate(1073.6,398.0) scale(0.61,1)">a</text><text transform="translate(1094.5,398.0) scale(0.61,1)">m</text><text transform="translate(1130.2,398.0) scale(0.61,1)">y</text><rect x="1066.4" y="355.0" width="7" height="43" stroke-width="0.8"/></g>
<text transform="translate(41.6,522.1) scale(0.53,1)" font-size="45" stroke-width="2.2">a</text>
<text transform="translate(341.6,522.1) scale(0.53,1)" font-size="45" stroke-width="2.2">a</text>
<g font-size="67" stroke-width="1.6"><text transform="translate(594.4,528.1) scale(0.61,1)">a</text><text transform="translate(626.7,528.1) scale(0.61,1)">a</text><text transform="translate(647.6,528.1) scale(0.61,1)">m</text><text transform="translate(683.3,528.1) scale(0.61,1)">y</text><rect x="619.5" y="485.1" width="7" height="43" stroke-width="0.8"/></g>
<text transform="translate(941.6,522.1) scale(0.53,1)" font-size="45" stroke-width="2.2">a</text>
<text transform="translate(1241.6,522.1) scale(0.53,1)" font-size="45" stroke-width="2.2">a</text>
<text transform="translate(191.6,652.2) scale(0.53,1)" font-size="45" stroke-width="2.2">a</text>
<text transform="translate(491.6,652.2) scale(0.53,1)" font-size="45" stroke-width="2.2">a</text>
<text transform="translate(791.6,652.2) scale(0.53,1)" font-size="45" stroke-width="2.2">a</text>
<text transform="translate(1091.6,652.2) scale(0.53,1)" font-size="45" stroke-width="2.2">a</text>
<g font-size="67" stroke-width="1.6"><text transform="translate(-6.8,788.3) scale(0.61,1)">a</text><text transform="translate(25.5,788.3) scale(0.61,1)">a</text><text transform="translate(46.4,788.3) scale(0.61,1)">m</text><text transform="translate(82.1,788.3) scale(0.61,1)">y</text><rect x="18.3" y="745.3" width="7" height="43" stroke-width="0.8"/></g>
<text transform="translate(341.6,782.3) scale(0.53,1)" font-size="45" stroke-width="2.2">a</text>
<text transform="translate(641.6,782.3) scale(0.53,1)" font-size="45" stroke-width="2.2">a</text>
<g font-size="67" stroke-width="1.6"><text transform="translate(889.4,788.3) scale(0.61,1)">a</text><text transform="translate(921.7,788.3) scale(0.61,1)">a</text><text transform="translate(942.6,788.3) scale(0.61,1)">m</text><text transform="translate(978.3,788.3) scale(0.61,1)">y</text><rect x="914.5" y="745.3" width="7" height="43" stroke-width="0.8"/></g>
<text transform="translate(1241.6,782.3) scale(0.53,1)" font-size="45" stroke-width="2.2">a</text>
<text transform="translate(191.6,912.4) scale(0.53,1)" font-size="45" stroke-width="2.2">a</text>
<text transform="translate(491.6,912.4) scale(0.53,1)" font-size="45" stroke-width="2.2">a</text>
<text transform="translate(791.6,912.4) scale(0.53,1)" font-size="45" stroke-width="2.2">a</text>
<text transform="translate(1091.6,912.4) scale(0.53,1)" font-size="45" stroke-width="2.2">a</text>
<text transform="translate(41.6,1042.5) scale(0.53,1)" font-size="45" stroke-width="2.2">a</text>
<text transform="translate(341.6,1042.5) scale(0.53,1)" font-size="45" stroke-width="2.2">a</text>
<text transform="translate(641.6,1042.5) scale(0.53,1)" font-size="45" stroke-width="2.2">a</text>
<text transform="translate(941.6,1042.5) scale(0.53,1)" font-size="45" stroke-width="2.2">a</text>
<text transform="translate(1241.6,1042.5) scale(0.53,1)" font-size="45" stroke-width="2.2">a</text>
</g>
<rect x="0" y="1027.6" width="1300" height="89.40000000000009" fill="#000"/>
<g transform="translate(50.3,1087.1) scale(0.925,0.94)" fill="#fff" stroke="#fff" stroke-linejoin="round" font-weight="bold"><g font-size="67" stroke-width="1.6"><text transform="translate(-1.6,0.0) scale(0.61,1)">a</text><text transform="translate(30.7,0.0) scale(0.61,1)">a</text><text transform="translate(51.6,0.0) scale(0.61,1)">m</text><text transform="translate(87.3,0.0) scale(0.61,1)">y</text><rect x="23.5" y="-43.0" width="7" height="43" stroke-width="0.8"/></g></g>
<text x="1112.5" y="1063.8" font-size="14.6" fill="#e4e4e4" textLength="138" lengthAdjust="spacingAndGlyphs">Image ID: 2ADMBKR</text>
<text x="1114.8" y="1087.6" font-size="16.4" font-weight="bold" fill="#f4f4f4" textLength="136.5" lengthAdjust="spacingAndGlyphs">www.alamy.com</text>
</svg></body></html>
